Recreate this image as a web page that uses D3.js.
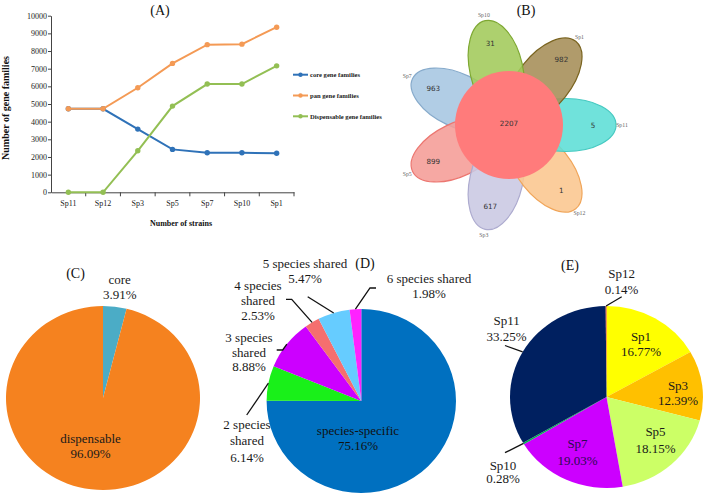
<!DOCTYPE html>
<html><head><meta charset="utf-8">
<script src="https://cdn.jsdelivr.net/npm/d3@7"></script>
<style>
body{margin:0;background:#fff}
svg{display:block;font-family:"Liberation Serif","Times New Roman",serif}
</style>
</head><body>
<svg id="c" width="709" height="496"></svg>
<script>
// ---------------- DATA ----------------
const strains = ["Sp11","Sp12","Sp3","Sp5","Sp7","Sp10","Sp1"];
const coreFamilies = [4730,4730,3580,2430,2240,2240,2210];
const panFamilies = [4730,4730,5920,7300,8360,8390,9350];
const dispensableFamilies = [0,0,2350,4880,6130,6130,7160];
const seriesNames = ["core gene families","pan gene families","Dispensable gene families"];
const yTicks = [0,1000,2000,3000,4000,5000,6000,7000,8000,9000,10000];

const vennSets = ["Sp11","Sp12","Sp3","Sp5","Sp7","Sp10","Sp1"];
const vennUnique = [5,1,617,899,963,31,982];
const vennCore = 2207;

const pieCLabels = ["core","dispensable"];
const pieCValues = [3.91,96.09];

const pieDLabels = ["species-specific","2 species shared","3 species shared","4 species shared","5 species shared","6 species shared"];
const pieDValues = [75.16,6.14,8.88,2.53,5.47,1.98];

const pieELabels = ["Sp1","Sp3","Sp5","Sp7","Sp10","Sp11","Sp12"];
const pieEValues = [16.77,12.39,18.15,19.03,0.28,33.25,0.14];

// ---------------- STYLE / LAYOUT ----------------
const serif = "'Liberation Serif','Times New Roman',serif";
const sans = "'DejaVu Sans','Liberation Sans',sans-serif";
const seriesColors = ["#2F72B8","#F49A55","#93BF54"];
const vennFill = ["#5CDED6","#FBC68E","#CAC8E2","#F59C96","#A6C6E1","#A2C95A","#A58D57"];
const vennStroke = ["#46C9C1","#F0A559","#ADABCF","#EC7670","#86AACB","#7EA832","#7A6420"];
const pieCColors = ["#4BACC6","#F5821F"];
const pieDColors = ["#0070C0","#19F019","#CC00FF","#F56F6F","#66CCFF","#FF22FF"];
const pieEColors = ["#FFFF00","#FFC000","#CCFF66","#CC00FF","#00B050","#002060","#E04020"];

const svg = d3.select("#c");

// ================= PANEL A =================
const A = {left:51,right:294,top:15.7,bottom:192.3};
const x = d3.scaleBand().domain(strains).range([A.left,A.right]);
const y = d3.scaleLinear().domain([0,10000]).range([A.bottom,A.top]);
const gA = svg.append("g");

gA.append("g").attr("transform",`translate(${A.left},0)`)
  .call(d3.axisLeft(y).tickValues(yTicks).tickSize(3).tickSizeOuter(0).tickPadding(1).tickFormat(d3.format("d")))
  .call(g=>{
    g.attr("font-family",serif).attr("font-size",8);
    g.select(".domain").attr("stroke","#444");
    g.selectAll(".tick line").attr("stroke","#444");
    g.selectAll(".tick text").attr("fill","#222");
  });

gA.append("g").attr("transform",`translate(0,${A.bottom})`)
  .call(d3.axisBottom(x).tickSize(0).tickSizeOuter(0).tickPadding(8))
  .call(g=>{
    g.attr("font-family",serif).attr("font-size",8);
    g.select(".domain").attr("stroke","#444");
    g.selectAll(".tick text").attr("fill","#222");
  });
// boundary ticks (Excel style)
gA.append("g").selectAll("line").data(strains).join("line")
  .attr("x1",d=>x(d)+x.bandwidth()).attr("x2",d=>x(d)+x.bandwidth())
  .attr("y1",A.bottom).attr("y2",A.bottom+4).attr("stroke","#444");

const series = [coreFamilies,panFamilies,dispensableFamilies];
const lineGen = d3.line().x((d,i)=>x(strains[i])+x.bandwidth()/2).y(d=>y(d));
series.forEach((vals,k)=>{
  gA.append("path").datum(vals).attr("d",lineGen).attr("fill","none")
    .attr("stroke",seriesColors[k]).attr("stroke-width",2);
  gA.append("g").selectAll("circle").data(vals).join("circle")
    .attr("cx",(d,i)=>x(strains[i])+x.bandwidth()/2).attr("cy",d=>y(d)).attr("r",2.7)
    .attr("fill",seriesColors[k]);
});
// legend
const leg = gA.append("g").attr("transform","translate(293,74.7)");
seriesNames.forEach((n,k)=>{
  const g = leg.append("g").attr("transform",`translate(0,${k*20.8})`);
  g.append("line").attr("x1",0).attr("x2",15).attr("stroke",seriesColors[k]).attr("stroke-width",2);
  g.append("circle").attr("cx",7.5).attr("r",2.2).attr("fill",seriesColors[k]);
  g.append("text").attr("x",17).attr("dy","0.35em").attr("font-size",6.6).attr("font-weight","bold")
    .attr("fill","#222").text(n);
});
gA.append("text").attr("x",160).attr("y",10).attr("dy","0.35em").attr("text-anchor","middle")
  .attr("font-size",14).attr("fill","#111").text("(A)");
gA.append("text").attr("x",181).attr("y",223).attr("dy","0.35em").attr("text-anchor","middle")
  .attr("font-size",8).attr("font-weight","bold").attr("fill","#111").text("Number of strains");
gA.append("text").attr("transform","translate(5,108) rotate(-90)").attr("dy","0.35em").attr("text-anchor","middle")
  .attr("font-size",10).attr("font-weight","bold").attr("fill","#111").text("Number of gene families");

// ================= PANEL B (Venn flower) =================
const V = {cx:509,cy:125,r:54,d:57,a:50,b:26.5,labR:84,nameR:113};
const gB = svg.append("g");
const ang = i => i*360/vennSets.length;
const drawOrder = [4,3,2,1,0,6,5];
drawOrder.forEach(i=>{
  const t = ang(i)*Math.PI/180;
  gB.append("ellipse")
    .attr("transform",`translate(${V.cx+V.d*Math.cos(t)},${V.cy+V.d*Math.sin(t)}) rotate(${ang(i)})`)
    .attr("rx",V.a).attr("ry",V.b)
    .attr("fill",vennFill[i]).attr("fill-opacity",0.88)
    .attr("stroke",vennStroke[i]).attr("stroke-width",1.2);
});
gB.append("circle").attr("cx",V.cx).attr("cy",V.cy).attr("r",V.r).attr("fill","#FF7B7B");
vennSets.forEach((s,i)=>{
  const t = ang(i)*Math.PI/180;
  gB.append("text").attr("x",V.cx+V.labR*Math.cos(t)).attr("y",V.cy+V.labR*Math.sin(t))
    .attr("dy","0.35em").attr("text-anchor","middle").attr("font-family",sans).attr("font-size",7.2)
    .attr("fill","#333").text(vennUnique[i]);
  gB.append("text").attr("x",V.cx+V.nameR*Math.cos(t)).attr("y",V.cy+V.nameR*Math.sin(t))
    .attr("dy","0.35em").attr("text-anchor","middle").attr("font-size",5.8)
    .attr("fill","#666").text(s);
});
gB.append("text").attr("x",V.cx).attr("y",V.cy-2).attr("dy","0.35em").attr("text-anchor","middle")
  .attr("font-family",sans).attr("font-size",7.2).attr("fill","#333").text(vennCore);
gB.append("text").attr("x",526).attr("y",10).attr("dy","0.35em").attr("text-anchor","middle")
  .attr("font-size",14).attr("fill","#111").text("(B)");

// ================= PIES =================
function pct(v){return v.toFixed(2)+"%";}
function drawPie(cfg){
  const g = svg.append("g");
  const arcs = d3.pie().sort(null).value(d=>d)(cfg.values);
  const arc = d3.arc().innerRadius(0).outerRadius(cfg.ry);
  g.append("g").attr("transform",`translate(${cfg.cx},${cfg.cy}) scale(${cfg.rx/cfg.ry},1)`)
    .selectAll("path").data(arcs).join("path").attr("d",arc).attr("fill",(d,i)=>cfg.colors[i]);
  const edge = a => [cfg.cx+cfg.rx*Math.sin(a), cfg.cy-cfg.ry*Math.cos(a)];
  cfg.labels.forEach((name,i)=>{
    const L = cfg.layout[i];
    const lines = (L.lines || [name]).concat([pct(cfg.values[i])]);
    const t = g.append("text").attr("text-anchor","middle").attr("font-size",13).attr("fill",L.color||"#1a1a1a");
    lines.forEach((ln,j)=>{
      t.append("tspan").attr("x",L.x).attr("y",L.y+j*L.lh).attr("dy","0.35em").text(ln);
    });
    if(L.lead){
      const a = (arcs[i].startAngle+arcs[i].endAngle)/2;
      const pts = [edge(a)].concat(L.lead);
      g.append("path").attr("d",d3.line()(pts)).attr("fill","none").attr("stroke","#111").attr("stroke-width",1.3);
    }
  });
  g.append("text").attr("x",cfg.title[0]).attr("y",cfg.title[1]).attr("dy","0.35em").attr("text-anchor","middle")
    .attr("font-size",14).attr("fill","#111").text(cfg.title[2]);
}

drawPie({cx:103,cy:398,rx:97,ry:92,values:pieCValues,labels:pieCLabels,colors:pieCColors,
  title:[75.5,272.7,"(C)"],
  layout:[{x:119.7,y:279,lh:15.3},{x:90.5,y:438.3,lh:15}]});

drawPie({cx:361.3,cy:401,rx:94.7,ry:92,values:pieDValues,labels:pieDLabels,colors:pieDColors,
  title:[365,263,"(D)"],
  layout:[
    {x:358,y:430,lh:15.5,lines:["species-specific"],color:"#111"},
    {x:247,y:424.3,lh:16.5,lines:["2 species","shared"],lead:[[246.7,415]]},
    {x:249,y:337.3,lh:14.7,lines:["3 species","shared"],lead:[[282.7,350],[276.7,350]]},
    {x:258,y:285,lh:15,lines:["4 species","shared"],lead:[[291.7,299.3],[286,299.3]]},
    {x:305,y:263.3,lh:15,lines:["5 species shared"],lead:[[307.7,296.7]]},
    {x:429,y:278.3,lh:15,lines:["6 species shared"],lead:[[370,288],[376,288]]}
  ]});

drawPie({cx:606.5,cy:397,rx:96.5,ry:91,values:pieEValues,labels:pieELabels,colors:pieEColors,
  title:[570,265,"(E)"],
  layout:[
    {x:641,y:336.7,lh:14.5},
    {x:678,y:385,lh:15.7},
    {x:655.5,y:431.7,lh:16.5},
    {x:577.5,y:443.3,lh:16.7,color:"#2a0a50"},
    {x:503,y:465,lh:13.5,lead:[[505,452.7]]},
    {x:506.6,y:320.7,lh:16,lead:[[505,345.5]]},
    {x:621.6,y:273.3,lh:16,lead:[[621.7,296.7]]}
  ]});
</script>
</body></html>
